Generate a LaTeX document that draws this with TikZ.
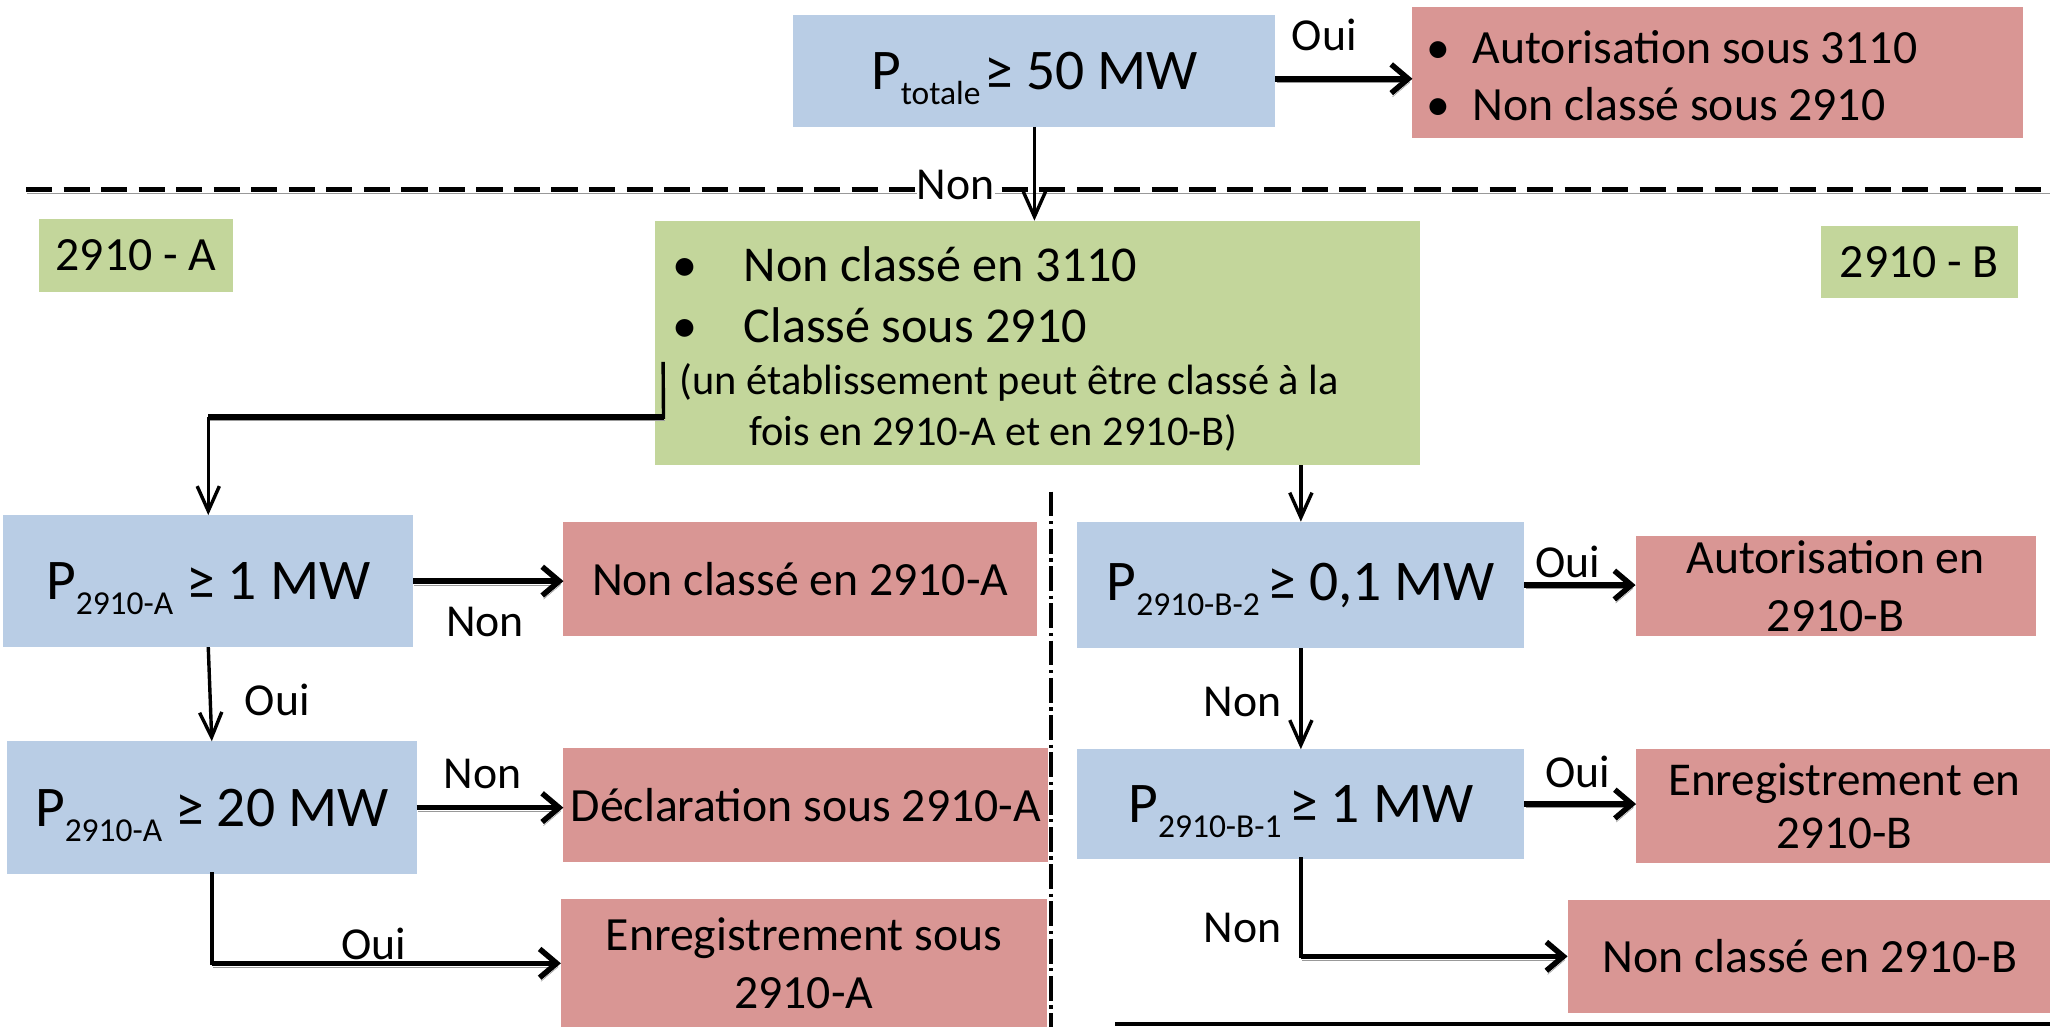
\documentclass[tikz,border=0pt]{standalone}
\usepackage{fontspec}
\setmainfont{Carlito}
\usetikzlibrary{arrows.meta}
\definecolor{bfill}{RGB}{185,205,229}
\definecolor{rfill}{RGB}{217,150,148}
\definecolor{gfill}{RGB}{195,214,155}
\newcommand{\sbx}[1]{\raisebox{-11.5pt}[0pt][0pt]{\fontsize{25.6}{30}\selectfont #1}}
% one line of a hand-stacked block: width, height, depth, content
\newcommand{\tline}[4]{\hbox to #1{\vrule height #2 depth #3 width 0pt #4\hfil}}
\tikzset{
  box/.style={rectangle, inner sep=0pt, outer sep=0pt, align=center, font=\fontsize{36.5}{44}\selectfont},
  qbox/.style={box, fill=bfill, font=\fontsize{44}{52}\selectfont},
  rbox/.style={box, fill=rfill},
  gbox/.style={box, fill=gfill},
  shadowed/.style={preaction={draw=black!40, transform canvas={shift={(1pt,-2.8pt)}}}},
  harrow/.style={line width=4.2pt, shadowed, -{Straight Barb[length=13pt,width=22pt]}},
  hline/.style={line width=4.2pt, shadowed},
  varrow/.style={line width=2.6pt, -{Straight Barb[length=19pt,width=17pt]}},
  vline/.style={line width=2.6pt, line cap=rect},
  lbl/.style={font=\fontsize{35}{42}\selectfont, inner sep=0pt},
}
\begin{document}
\begin{tikzpicture}[x=1pt, y=-1pt]
\useasboundingbox (0,0) rectangle (1568,785);

% separators
\draw[line width=3.8pt, dash pattern=on 20pt off 8.7pt, shadowed] (20,145) -- (1570,145);
\draw[line width=2.8pt, dash pattern=on 19pt off 3.5pt on 2.5pt off 3.5pt] (804,376) -- (804,790);
\draw[line width=2.8pt] (853,783) -- (1570,783);

% boxes
\node[qbox, minimum width=368.7pt, minimum height=85.5pt] (ptot) at (791.2,54.25) {P\sbx{totale}\hspace{3pt}≥ 50 MW};
\node[rbox, minimum width=466.7pt, minimum height=100.2pt, font=\fontsize{36.5}{44}\selectfont] (topres) at (1313.7,55.7)
  {\vbox{\offinterlineskip
    \tline{445.8pt}{32pt}{13.4pt}{\makebox[35.6pt][l]{•}Autorisation sous 3110}
    \tline{445.8pt}{30pt}{3.2pt}{\makebox[35.6pt][l]{•}Non classé sous 2910}}};
\node[gbox, minimum width=148.6pt, minimum height=55.8pt] (ga) at (104,195.5) {2910 - A};
\node[gbox, minimum width=150.7pt, minimum height=54.8pt] (gb) at (1468,200.3) {2910 - B};
\node[gbox, minimum width=584.6pt, minimum height=187.2pt] (gmain) at (793.5,262.4)
  {\vbox{\offinterlineskip
    \tline{547pt}{40pt}{16.6pt}{\fontsize{38.4}{46}\selectfont\hspace*{-6pt}\makebox[55pt][l]{•}Non classé en 3110}
    \tline{547pt}{30pt}{14pt}{\fontsize{38.4}{46}\selectfont\hspace*{-6pt}\makebox[55pt][l]{•}Classé sous 2910}
    \tline{547pt}{26pt}{12.4pt}{\fontsize{32.4}{39}\selectfont (un établissement peut être classé à la}
    \tline{547pt}{26pt}{9pt}{\fontsize{32.4}{39}\selectfont\hspace*{53pt}fois en 2910-A et en 2910-B)}}};

\node[qbox, minimum width=313.4pt, minimum height=101pt] (pa1) at (159.3,444.5) {P\sbx{2910-A} ≥ 1 MW};
\node[rbox, minimum width=362pt, minimum height=87.6pt] (nca) at (612,442.8) {Non classé en 2910-A};
\node[qbox, minimum width=313.4pt, minimum height=101.5pt] (pa20) at (162,617.75) {P\sbx{2910-A} ≥ 20 MW};
\node[rbox, minimum width=370.9pt, minimum height=87.6pt] (decl) at (616.35,615.8) {Déclaration sous 2910-A};
\node[rbox, minimum width=371.7pt, minimum height=98.4pt] (enra) at (614.85,736.8) {Enregistrement sous\\2910-A};

\node[qbox, minimum width=342pt, minimum height=97pt] (pb2) at (995,447.5) {P\sbx{2910-B-2\ }≥ 0,1 MW};
\node[rbox, minimum width=306pt, minimum height=76.6pt] (autb) at (1404,448.3) {Autorisation en\\2910-B};
\node[qbox, minimum width=342pt, minimum height=84pt] (pb1) at (995,615) {P\sbx{2910-B-1\ }≥ 1 MW};
\node[rbox, minimum width=318.6pt, minimum height=87pt, font=\fontsize{36}{41}\selectfont] (enrb) at (1410.7,616.5) {Enregistrement en\\2910-B};
\node[rbox, minimum width=371pt, minimum height=87pt] (ncb) at (1384.5,731.5) {Non classé en 2910-B};

% connectors
\draw[harrow] ([yshift=-6pt]ptot.east) -- ([yshift=-6pt]ptot.east -| topres.west);
\draw[varrow] (ptot.south) -- (ptot.south |- gmain.north);

\coordinate (gsrc) at ([xshift=6pt, yshift=-15.6pt]gmain.west);
\coordinate (gbend) at (507.5,319);
\draw[vline] (gsrc) -- (gbend);
\draw[hline] (gbend) -- (gbend -| pa1.north);
\draw[varrow] (gbend -| pa1.north) -- (pa1.north);

\draw[harrow] (pa1.east) -- (pa1.east -| nca.west);
\draw[varrow] (pa1.south) -- (pa20.north);
\draw[harrow] (pa20.east) -- (pa20.east -| decl.west);
\draw[vline] (pa20.south) -- (pa20.south |- enra.west);
\draw[harrow] (pa20.south |- enra.west) -- (enra.west);

\draw[varrow] (pb2.north |- gmain.south) -- (pb2.north);
\draw[harrow] (pb2.east) -- (pb2.east -| autb.west);
\draw[varrow] (pb2.south) -- (pb1.north);
\draw[harrow] (pb1.east) -- (pb1.east -| enrb.west);
\draw[vline] (pb1.south) -- (pb1.south |- ncb.west);
\draw[harrow] (pb1.south |- ncb.west) -- (ncb.west);

% labels
\node[lbl] (l1) at (1013,27) {Oui};
\node[lbl, fill=white, inner ysep=2pt] (l2) at (731,141.5) {Non};
\node[lbl] (l3) at (371,475.5) {Non};
\node[lbl] (l4) at (212,535.7) {Oui};
\node[lbl] (l5) at (369,592) {Non};
\node[lbl] (l6) at (286,722) {Oui};
\node[lbl] (l7) at (1199,430) {Oui};
\node[lbl] (l8) at (1206.8,590.7) {Oui};
\node[lbl] (l9) at (950.5,536.6) {Non};
\node[lbl] (l10) at (950.5,710) {Non};
\end{tikzpicture}
\end{document}
